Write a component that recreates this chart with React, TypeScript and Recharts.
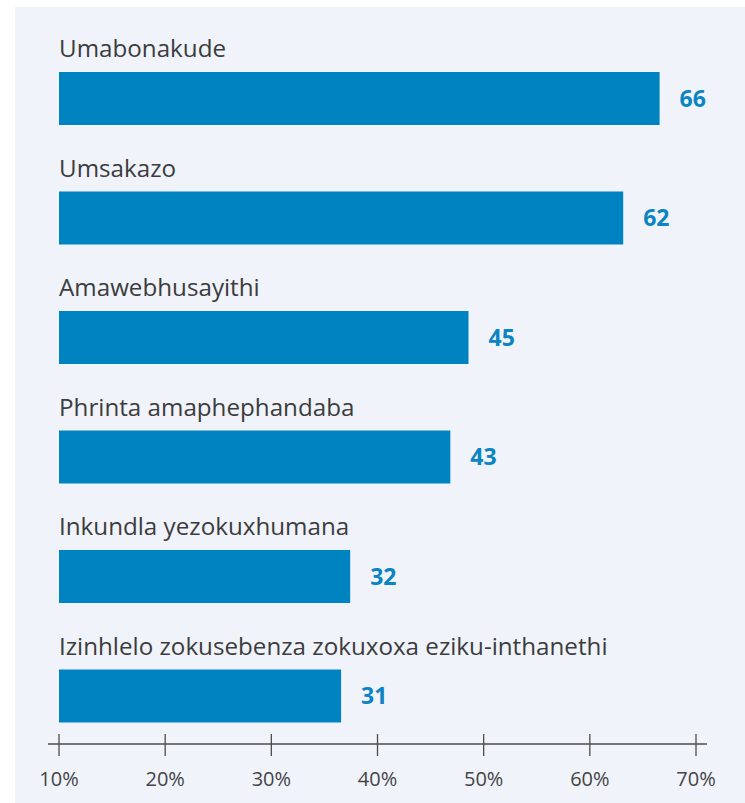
import React from "react";
import { BarChart, Bar, XAxis, YAxis, LabelList } from "recharts";

const categories = [
  "Umabonakude",
  "Umsakazo",
  "Amawebhusayithi",
  "Phrinta amaphephandaba",
  "Inkundla yezokuxhumana",
  "Izinhlelo zokusebenza zokuxoxa eziku-inthanethi",
];
const values = [66, 62, 45, 43, 32, 31];
const tickValues = [10, 20, 30, 40, 50, 60, 70];
const tickLabels = ["10%", "20%", "30%", "40%", "50%", "60%", "70%"];

const data = categories.map((name, i) => ({ name, value: values[i] }));

const FONT = "'Open Sans', 'Noto Sans', sans-serif";
const BAR = "#0083c1";
const VALUE = "#0a84c2";
const TEXT = "#3c3c3e";
const AXIS = "#4d4d4d";

const AxisTick = (props: any) => {
  const { x, y, index, width } = props;
  return (
    <g>
      {index === 0 && (
        <line x1={x - 11} x2={x + width + 11} y1={y - 12} y2={y - 12} stroke={AXIS} strokeWidth={1.3} />
      )}
      <line x1={x} x2={x} y1={y - 22} y2={y} stroke={AXIS} strokeWidth={1.3} />
      <text
        x={x}
        y={y + 30}
        textAnchor="middle"
        fill="#444446"
        style={{ fontFamily: FONT, fontSize: 20 }}
      >
        {tickLabels[index] ?? ""}
      </text>
    </g>
  );
};

const CategoryLabel = (props: any) => {
  const { x, y, value } = props;
  return (
    <text x={x} y={y - 15} fill={TEXT} style={{ fontFamily: FONT, fontSize: 24.2 }}>
      {value}
    </text>
  );
};

export default function App() {
  return (
    <div style={{ position: "absolute", left: 0, top: 0, width: 745, height: 803, background: "#ffffff" }}>
      <div style={{ position: "absolute", left: 15, top: 7, right: 0, bottom: 0, background: "#f0f3f9" }} />
      <div style={{ position: "absolute", left: 0, top: 0 }}>
        <BarChart
          width={745}
          height={803}
          data={data}
          layout="vertical"
          margin={{ top: 39, right: 49, bottom: 0, left: 59 }}
          style={{ fontFamily: FONT }}
        >
          <YAxis type="category" dataKey="name" hide />
          <XAxis
            xAxisId="lab"
            type="number"
            domain={[10, 70]}
            ticks={tickValues}
            allowDataOverflow
            interval={0}
            height={47}
            axisLine={false}
            tickLine={false}
            tickSize={0}
            tickMargin={0}
            tick={<AxisTick />}
          />
          <XAxis xAxisId="bar" type="number" domain={[0, 70]} allowDataOverflow hide height={0} />
          <Bar dataKey="value" xAxisId="bar" fill={BAR} barSize={53} isAnimationActive={false}>
            <LabelList dataKey="name" content={<CategoryLabel />} />
            <LabelList
              dataKey="value"
              position="right"
              offset={20}
              fill={VALUE}
              style={{ fontFamily: FONT, fontSize: 23, fontWeight: 700 }}
            />
          </Bar>
        </BarChart>
      </div>
    </div>
  );
}
